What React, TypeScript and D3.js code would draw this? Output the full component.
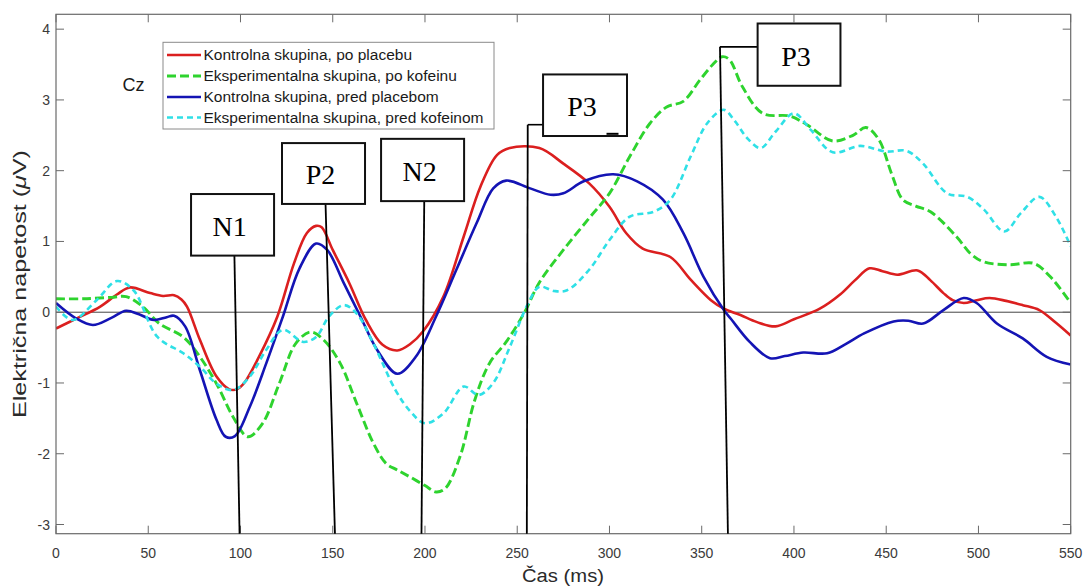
import React from "react";
import * as d3 from "d3";

// ---------- data (time in ms, amplitude in µV) ----------
const redT = [0, 11, 24, 33, 40, 51, 58, 64, 68, 71, 78, 87, 94, 98, 102, 110, 120, 129, 136, 141, 144, 150, 159, 168, 177, 185, 192, 199, 210, 221, 230, 239, 246, 262, 275, 289, 300, 309, 318, 333, 344, 355, 362, 371, 380, 390, 400, 414, 425, 433, 441, 448, 456, 467, 474, 481, 486, 492, 499, 506, 515, 524, 533, 542, 550];
const redV = [-0.23, -0.09, 0.08, 0.25, 0.35, 0.27, 0.23, 0.24, 0.18, 0.08, -0.39, -0.91, -1.09, -1.09, -1.0, -0.63, -0.06, 0.69, 1.12, 1.22, 1.2, 0.88, 0.41, -0.11, -0.46, -0.54, -0.45, -0.27, 0.22, 1.07, 1.77, 2.22, 2.32, 2.32, 2.1, 1.82, 1.49, 1.12, 0.9, 0.78, 0.46, 0.17, 0.05, -0.04, -0.14, -0.2, -0.1, 0.05, 0.25, 0.45, 0.62, 0.58, 0.53, 0.59, 0.45, 0.27, 0.17, 0.13, 0.17, 0.2, 0.16, 0.1, 0.03, -0.15, -0.33];

const greenT = [0, 15, 30, 38, 47, 56, 69, 78, 87, 96, 104, 112, 121, 130, 138, 145, 154, 163, 172, 179, 185, 192, 200, 206, 211, 219, 227, 235, 244, 254, 262, 275, 289, 300, 311, 322, 331, 340, 349, 356, 361, 365, 372, 383, 398, 407, 421, 432, 439, 446, 453, 459, 466, 474, 488, 496, 503, 517, 530, 539, 550];
const greenV = [0.19, 0.19, 0.21, 0.22, 0.08, -0.16, -0.35, -0.63, -1.01, -1.48, -1.76, -1.57, -1.01, -0.44, -0.28, -0.39, -0.72, -1.29, -1.85, -2.14, -2.23, -2.33, -2.45, -2.54, -2.49, -2.04, -1.24, -0.72, -0.42, 0.0, 0.42, 0.88, 1.33, 1.68, 2.2, 2.67, 2.9, 2.98, 3.28, 3.5, 3.61, 3.57, 3.19, 2.81, 2.77, 2.65, 2.42, 2.5, 2.61, 2.44, 1.95, 1.59, 1.5, 1.42, 1.07, 0.82, 0.71, 0.67, 0.69, 0.5, 0.13];

const blueT = [0, 11, 20, 30, 38, 45, 53, 60, 64, 70, 78, 87, 92, 97, 105, 114, 123, 132, 141, 147, 156, 165, 174, 185, 195, 206, 217, 228, 237, 244, 257, 268, 275, 286, 302, 315, 329, 340, 351, 362, 366, 376, 387, 395, 405, 418, 428, 438, 454, 462, 470, 481, 492, 499, 510, 524, 537, 550];
const blueV = [0.13, -0.09, -0.18, -0.08, 0.02, -0.03, -0.11, -0.07, -0.05, -0.2, -0.82, -1.52, -1.76, -1.75, -1.34, -0.72, -0.06, 0.62, 0.97, 0.88, 0.41, -0.06, -0.53, -0.87, -0.63, -0.06, 0.6, 1.26, 1.75, 1.86, 1.75, 1.66, 1.68, 1.85, 1.95, 1.85, 1.59, 1.12, 0.5, 0.03, -0.1, -0.42, -0.65, -0.62, -0.57, -0.58, -0.45, -0.3, -0.13, -0.12, -0.16, 0.03, 0.2, 0.13, -0.16, -0.37, -0.63, -0.74];

const cyanT = [0, 9, 22, 33, 42, 55, 69, 78, 87, 96, 105, 114, 123, 134, 141, 148, 156, 163, 172, 184, 192, 200, 210, 221, 229, 237, 246, 256, 262, 270, 277, 289, 300, 311, 324, 333, 344, 353, 362, 368, 375, 382, 390, 400, 409, 421, 436, 450, 461, 470, 483, 494, 503, 514, 523, 533, 542, 550];
const cyanV = [0.08, -0.11, 0.17, 0.44, 0.31, -0.35, -0.58, -0.77, -1.01, -1.1, -0.91, -0.53, -0.25, -0.42, -0.35, -0.06, 0.1, -0.02, -0.44, -1.1, -1.4, -1.57, -1.43, -1.05, -1.17, -1.0, -0.49, 0.13, 0.36, 0.3, 0.31, 0.6, 1.02, 1.35, 1.42, 1.59, 2.2, 2.67, 2.86, 2.7, 2.45, 2.32, 2.55, 2.81, 2.58, 2.26, 2.35, 2.27, 2.28, 2.1, 1.68, 1.63, 1.45, 1.14, 1.4, 1.63, 1.35, 0.93];

const seriesNames = [
  "Kontrolna skupina, po placebu",
  "Eksperimentalna skupina, po kofeinu",
  "Kontrolna skupina, pred placebom",
  "Eksperimentalna skupina, pred kofeinom",
];
const xTicks = [0, 50, 100, 150, 200, 250, 300, 350, 400, 450, 500, 550];
const yTicks = [-3, -2, -1, 0, 1, 2, 3, 4];
const xDomain = [0, 550];
const yDomain = [-3.13, 4.21];

// annotations: label, box [t0,t1,v0,v1], pointer [tTop, vTop, tBottom]
const annLabels = ["N1", "P2", "N2", "P3", "P3"];
const annBoxT = [[73.2, 118.2], [122.5, 167.5], [176.2, 221.2], [264.0, 309.5], [380.3, 425.2]];
const annBoxV = [[0.8, 1.67], [1.53, 2.39], [1.57, 2.45], [2.49, 3.36], [3.2, 4.08]];
const annPtrTop = [[96.7, 0.8], [146.1, 1.53], [199.6, 1.57], [255.7, 2.65], [359.9, 3.75]];
const annPtrBottom = [99.5, 151.2, 198.1, 255.2, 364.2];

const colors = ["#db1f1f", "#2ed32e", "#1414b4", "#2fe0e6"];
const dashes = [null, "9,4", null, "6,4"];
const widths = [2.6, 2.9, 2.6, 2.6];

export default function App() {
  const L = 56, R = 1070.7, T = 14.3, B = 533.7;
  const x = d3.scaleLinear().domain(xDomain).range([L, R]);
  const y = d3.scaleLinear().domain(yDomain).range([B, T]);

  const all = [
    d3.zip(redT, redV),
    d3.zip(greenT, greenV),
    d3.zip(blueT, blueV),
    d3.zip(cyanT, cyanV),
  ] as [number, number][][];

  const line = d3
    .line<[number, number]>()
    .x((d) => x(d[0]))
    .y((d) => y(d[1]))
    .curve(d3.curveCatmullRom.alpha(0.5));

  const axisColor = "#6a6a6a";
  const tickLen = 8;
  const font = "'Liberation Sans', Arial, sans-serif";
  const serif = "'Liberation Serif', 'Times New Roman', serif";

  const legX = 163, legY = 42.3, legW = 331, legH = 86.7;
  const rowY = [55, 76, 97, 117.5];

  return (
    <svg
      width={1086}
      height={588}
      style={{ position: "absolute", left: 0, top: 0, background: "#fff" }}
    >
      <rect x={0} y={0} width={1086} height={588} fill="#fff" />
      <defs>
        <clipPath id="plotclip">
          <rect x={L} y={T} width={R - L} height={B - T} />
        </clipPath>
      </defs>

      {/* zero line */}
      <line x1={L} x2={R} y1={y(0)} y2={y(0)} stroke="#444" strokeWidth={1} />

      {/* curves */}
      <g clipPath="url(#plotclip)">
        {all.map((d, i) => (
          <path
            key={i}
            d={line(d) || ""}
            fill="none"
            stroke={colors[i]}
            strokeWidth={widths[i]}
            strokeDasharray={dashes[i] || undefined}
            strokeLinejoin="round"
          />
        ))}
      </g>

      {/* axes box */}
      <rect x={L} y={T} width={R - L} height={B - T} fill="none" stroke={axisColor} strokeWidth={1.2} />
      {xTicks.map((t) => (
        <g key={"xt" + t}>
          <line x1={x(t)} x2={x(t)} y1={B} y2={B - tickLen} stroke={axisColor} strokeWidth={1} />
          <line x1={x(t)} x2={x(t)} y1={T} y2={T + tickLen} stroke={axisColor} strokeWidth={1} />
          <text
            x={x(t)}
            y={557.5}
            textAnchor="middle"
            fontFamily={font}
            fontSize={14}
            fill="#3a3a3a"
          >
            {t}
          </text>
        </g>
      ))}
      {yTicks.map((v) => (
        <g key={"yt" + v}>
          <line x1={L} x2={L + tickLen} y1={y(v)} y2={y(v)} stroke={axisColor} strokeWidth={1} />
          <line x1={R} x2={R - tickLen} y1={y(v)} y2={y(v)} stroke={axisColor} strokeWidth={1} />
          <text
            x={50}
            y={y(v) + 5}
            textAnchor="end"
            fontFamily={font}
            fontSize={14}
            fill="#3a3a3a"
          >
            {v}
          </text>
        </g>
      ))}

      {/* axis labels */}
      <text
        x={563}
        y={582}
        textAnchor="middle"
        fontFamily={font}
        fontSize={18}
        fill="#2a2a2a"
        textLength={82}
        lengthAdjust="spacingAndGlyphs"
      >
        Čas (ms)
      </text>
      <text
        transform="translate(26,284) rotate(-90)"
        textAnchor="middle"
        fontFamily={font}
        fontSize={18}
        fill="#2a2a2a"
        textLength={268}
        lengthAdjust="spacingAndGlyphs"
      >
        Električna napetost (<tspan fontStyle="italic">μ</tspan>V)
      </text>

      {/* Cz */}
      <text x={122.5} y={90.5} fontFamily={font} fontSize={18} fill="#1a1a1a">
        Cz
      </text>

      {/* legend */}
      <rect x={legX} y={legY} width={legW} height={legH} fill="#fff" stroke="#8a8a8a" strokeWidth={1} />
      {seriesNames.map((name, i) => (
        <g key={"lg" + i}>
          <line
            x1={167}
            x2={201}
            y1={rowY[i]}
            y2={rowY[i]}
            stroke={colors[i]}
            strokeWidth={widths[i]}
            strokeDasharray={dashes[i] || undefined}
          />
          <text x={203.5} y={rowY[i] + 5.3} fontFamily={font} fontSize={15.5} fill="#1a1a1a">
            {name}
          </text>
        </g>
      ))}

      {/* annotation pointers */}
      {annLabels.map((lab, i) => {
        const [pt, pv] = annPtrTop[i];
        const bx0 = x(annBoxT[i][0]);
        const py = y(pv);
        const px = x(pt);
        const horiz = py > y(annBoxV[i][0]) - 1 ? null : (
          <line x1={px} x2={bx0} y1={py} y2={py} stroke="#000" strokeWidth={1.6} />
        );
        return (
          <g key={"ap" + i}>
            <line
              x1={px}
              y1={py}
              x2={x(annPtrBottom[i])}
              y2={y(yDomain[0])}
              stroke="#000"
              strokeWidth={1.8}
            />
            {horiz}
          </g>
        );
      })}

      {/* annotation boxes */}
      {annLabels.map((lab, i) => {
        const x0 = x(annBoxT[i][0]);
        const x1 = x(annBoxT[i][1]);
        const y0 = y(annBoxV[i][1]);
        const y1 = y(annBoxV[i][0]);
        return (
          <g key={"ab" + i}>
            <rect x={x0} y={y0} width={x1 - x0} height={y1 - y0} fill="#fff" stroke="#111" strokeWidth={2} />
            <text
              x={(x0 + x1) / 2 - 3}
              y={y0 + (y1 - y0) * 0.68}
              textAnchor="middle"
              fontFamily={serif}
              fontSize={28}
              fill="#000"
            >
              {lab}
            </text>
            {i === 3 ? (
              <line x1={x1 - 20.5} x2={x1 - 8.5} y1={y1 - 2.2} y2={y1 - 2.2} stroke="#000" strokeWidth={2} />
            ) : null}
          </g>
        );
      })}
    </svg>
  );
}
